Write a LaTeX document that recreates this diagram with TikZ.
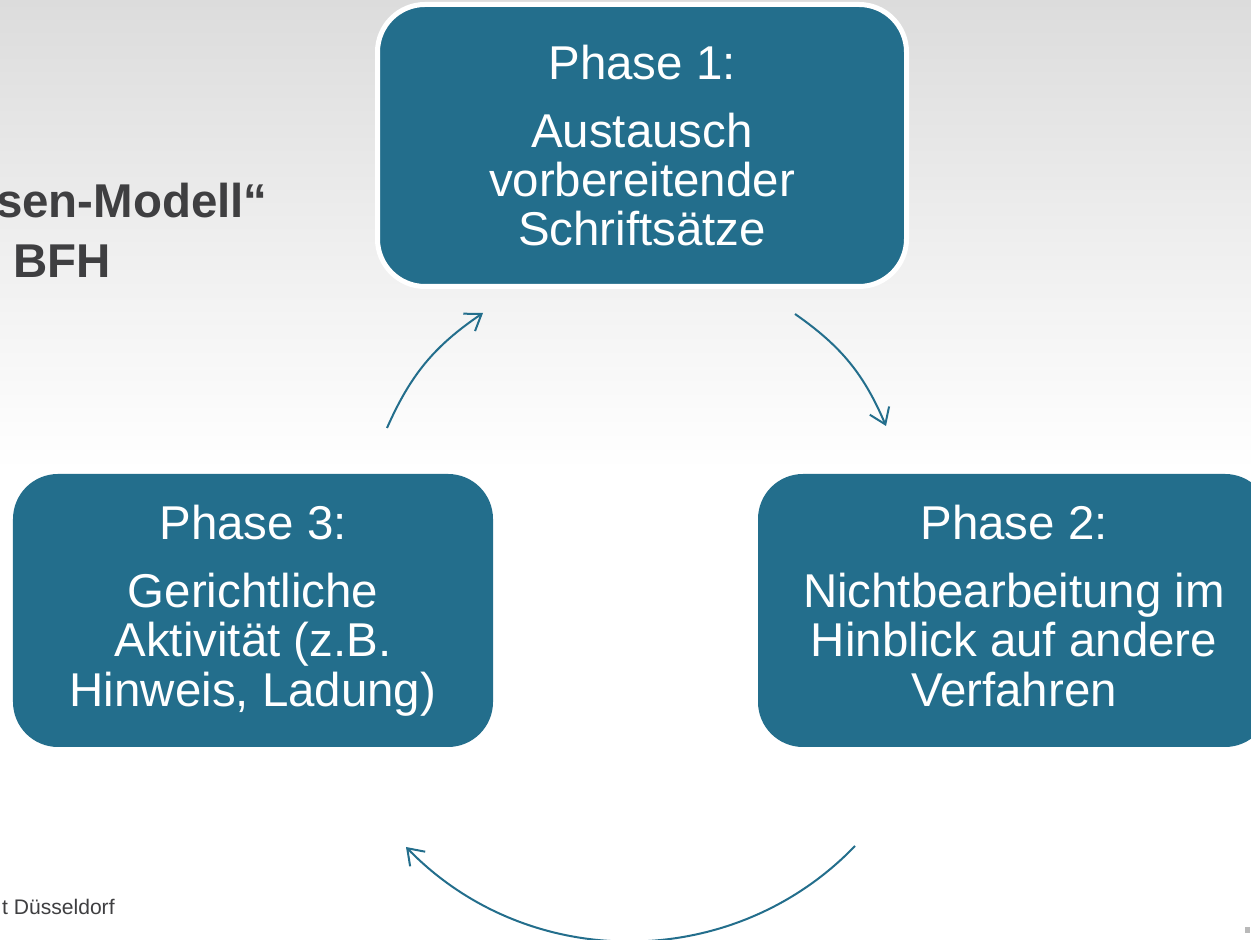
\documentclass[tikz,border=0pt]{standalone}
\usepackage{fontspec}
\setmainfont{Liberation Sans}
\usepackage[HTML]{xcolor}
\usetikzlibrary{positioning, arrows.meta}

\definecolor{phaseblue}{HTML}{236E8C}
\definecolor{titlegray}{HTML}{3F3F41}
\definecolor{bggray}{HTML}{DCDCDC}

\tikzset{
  phase/.style={rounded corners=0.9cm, fill=phaseblue, text=white, align=center,
    inner sep=0pt, minimum height=5.46cm, font=\fontsize{27}{28.1}\selectfont},
  cyclearrow/.style={->, draw=phaseblue, line width=0.04cm},
  titletext/.style={text=titlegray, inner sep=0pt, font=\bfseries\fontsize{27}{30}\selectfont},
}

\begin{document}
\begin{tikzpicture}[>={Straight Barb[length=0.3cm,width=0.42cm]}]

\useasboundingbox (0,0) rectangle (25.02,18.8);
\clip (0,0) rectangle (25.02,18.8);

% Background
\fill[white] (0,0) rectangle (25.02,18.8);
\shade[top color=bggray, bottom color=white] (0,9.4) rectangle (25.02,18.8);

% Title (cut off at the left)
\node[titletext, anchor=base east] (title1) at (5.36,14.44) {sen-Modell“};
\node[titletext, anchor=base west] (title2) at (0.26,13.24) {BFH};

% Nodes
\node[phase, minimum width=10.58cm, minimum height=5.64cm, rounded corners=0.95cm,
  draw=white, line width=0.1cm] (P1) at (12.84,15.89)
  {Phase 1:\\[0.37cm] Austausch\\ vorbereitender\\ Schriftsätze};
\node[phase, minimum width=10.24cm] (P2) at (20.28,6.59)
  {Phase 2:\\[0.37cm] Nichtbearbeitung im\\ Hinblick auf andere\\ Verfahren\vphantom{g)}};
\node[phase, minimum width=9.6cm] (P3) at (5.06,6.59)
  {Phase 3:\\[0.37cm] Gerichtliche\\ Aktivität (z.B.\\ Hinweis, Ladung)};

% Arrows
\coordinate (a1s) at (7.74,10.24);
\coordinate (a1e) at (9.66,12.54);
\coordinate (a2s) at (15.90,12.52);
\coordinate (a2e) at (17.72,10.28);
\coordinate (a3s) at (17.10,1.88);
\coordinate (a3e) at (8.12,1.86);
\draw[cyclearrow] (a1s) to[bend left=16] (a1e);
\draw[cyclearrow] (a2s) to[bend left=16] (a2e);
\draw[cyclearrow] (a3s) to[bend left=46] (a3e);

% Footer
\node[text=titlegray, inner sep=0pt, font=\fontsize{12}{14}\selectfont, anchor=base east]
  (footer) at (2.30,0.50) {t Düsseldorf};
\fill[gray!55] (24.90,0.14) rectangle (25.00,0.26);

\end{tikzpicture}
\end{document}
